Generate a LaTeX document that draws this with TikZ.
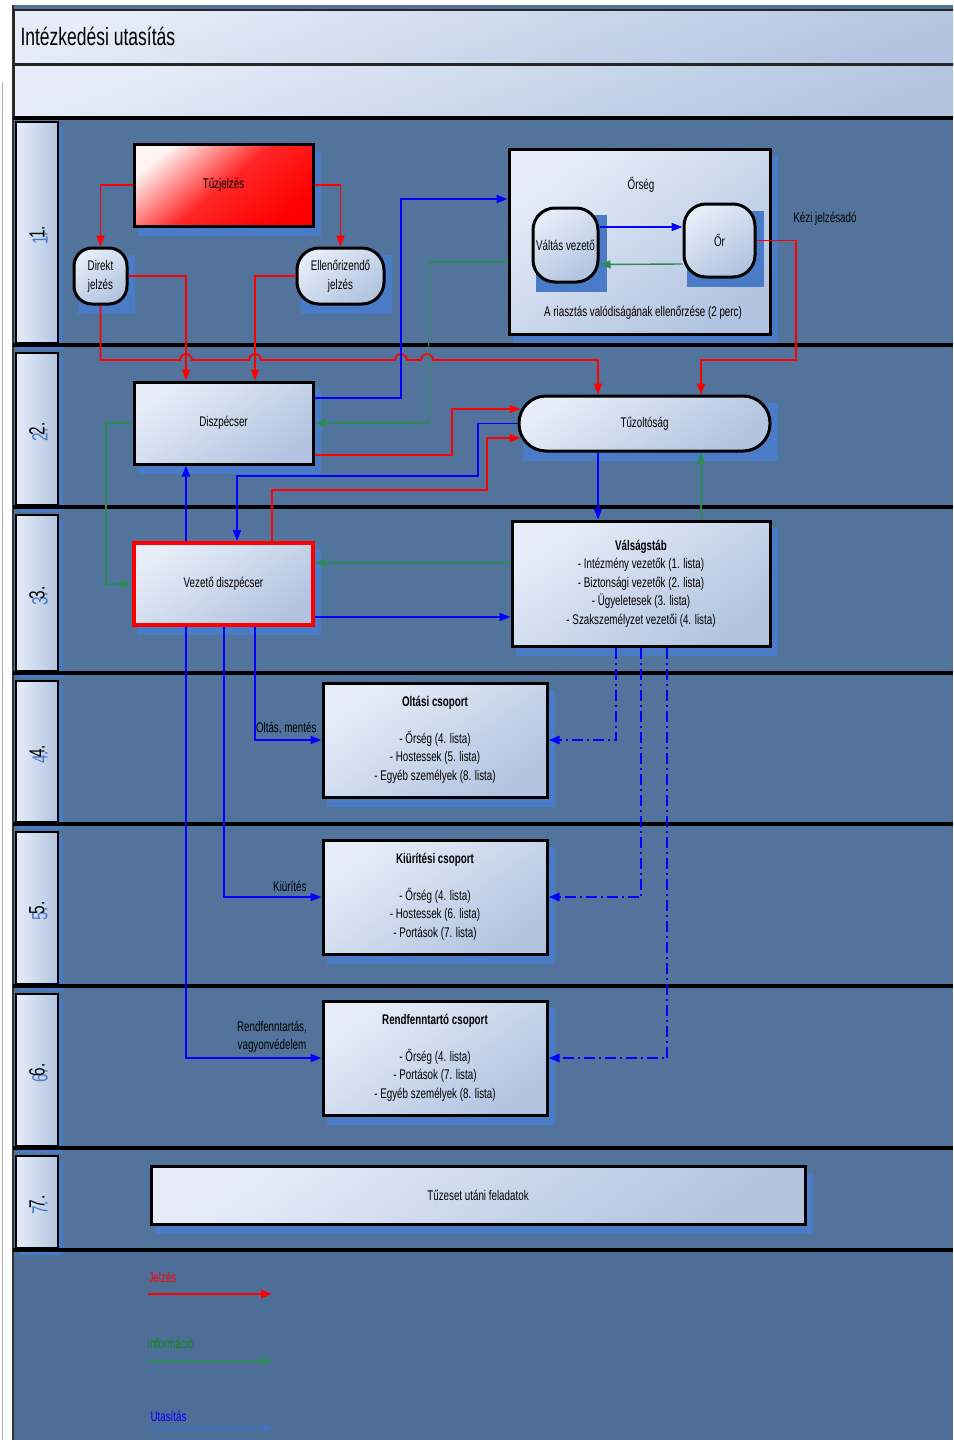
\documentclass[tikz,border=0pt]{standalone}
\usepackage{fontspec}
\setmainfont{Liberation Sans}[FakeStretch=0.7]
\usetikzlibrary{arrows.meta,calc}
\definecolor{bg}{HTML}{52739B}
\definecolor{bgl}{HTML}{4D6E96}
\definecolor{shd}{HTML}{4A7BC6}
\definecolor{lite}{HTML}{E6EDF8}
\definecolor{dark}{HTML}{B2C4E0}
\definecolor{grn}{HTML}{2E8B57}
\definecolor{blu}{HTML}{0000FF}
\definecolor{rd}{HTML}{FF0000}
\definecolor{lgblue}{HTML}{3F72C2}
\definecolor{lgreen}{HTML}{118811}
\pgfdeclarelayer{bgzero}
\pgfdeclarelayer{back}
\pgfdeclarelayer{cont}
\pgfdeclarelayer{cshadow}
\pgfsetlayers{bgzero,back,cont,cshadow,main}
\begin{document}
\begin{tikzpicture}[x=1pt,y=-1pt,
  every node/.style={font=\fontsize{14}{18.5}\selectfont},
  box/.style={draw=black, line width=3pt, top color=lite, bottom color=dark, shading angle=35, align=center, inner sep=2pt},
  lanebox/.style={draw=black, line width=2pt, left color=lite, right color=dark},
  rline/.style={draw=rd, line width=1.8pt},
  bline/.style={draw=blu, line width=1.8pt},
  gline/.style={draw=grn, line width=1.4pt},
  ddline/.style={draw=blu, line width=2.4pt, dash pattern=on 11pt off 4pt on 2pt off 4pt},
  arr/.style={-{Triangle[length=11pt,width=8pt]}},
  sep/.style={draw=black, line width=3.5pt},
  lanenum/.style={rotate=90, font=\fontsize{22}{22}\selectfont},
]
\clip (0,0) rectangle (953,1440);
\useasboundingbox (0,0) rectangle (953,1440);
\begin{pgfonlayer}{bgzero}
  \fill[white] (0,0) rectangle (953,1440);
  \fill[bg] (12,5) rectangle (953,1440);
  \fill[bgl] (12,1252) rectangle (953,1440);
  \draw[gray!60, line width=1pt] (2,82) -- (2,1440);
  \draw[black!80, line width=1.5pt] (13,5) -- (13,1440);
\end{pgfonlayer}

% headers
\node[draw=black!85, line width=2pt, top color=lite, bottom color=dark, shading angle=20, minimum width=960, minimum height=54, anchor=north west, inner sep=0pt] (hdr) at (13,9) {};
\node[anchor=west, font=\fontsize{25}{25}\selectfont] (title) at (17,36) {Intézkedési utasítás};
\node[draw=black!85, line width=2pt, top color=lite, bottom color=dark, shading angle=20, minimum width=960, minimum height=52, anchor=north west, inner sep=0pt] (hdr2) at (13,64) {};

% lane separators
\foreach \yy in {118,345,507,673,824,986,1148,1250}
  \draw[sep] (13,\yy) -- (953,\yy);

% lane label boxes
\foreach \i/\ya/\yb in {1/121/342,2/352/504,3/514/670,4/680/821,5/831/983,6/993/1145,7/1155/1247}{
  \begin{pgfonlayer}{back}
    \fill[shd] (19,\ya+6) rectangle (63,\yb+8);
  \end{pgfonlayer}
  \node[lanebox, minimum width=42, minimum height=\yb-\ya, inner sep=0pt, anchor=north west] (lane\i) at (15,\ya) {};
  \node[lanenum, text=shd] (lnb\i) at ($(lane\i.center)+(3,6)$) {\i.};
  \node[lanenum] (ln\i) at (lane\i.center) {\i.};
}

% ---- nodes ----
\node[box, minimum width=179, minimum height=82, top color=white!80!pink, bottom color=rd, middle color=rd!85!white, shading angle=40] (tj) at (223.5,185) {Tűzjelzés};
\node[box, rounded corners=18pt, minimum width=53, minimum height=56, font=\fontsize{14}{19}\selectfont] (dj) at (100.5,276) {Direkt\\jelzés};
\node[box, rounded corners=22pt, minimum width=87, minimum height=56, font=\fontsize{14}{19}\selectfont] (ej) at (340.5,276) {Ellenőrizendő\\jelzés};
\begin{pgfonlayer}{cont}
  \node[box, minimum width=261, minimum height=185] (orseg) at (639.5,241.5) {};
\end{pgfonlayer}
\node (orsegt) at (641,185) {Őrség};
\node (riaszt) at (643,313) {A riasztás valódiságának ellenőrzése (2 perc)};
\node[box, rounded corners=22pt, minimum width=65, minimum height=74] (vv) at (565.5,245) {Váltás vezető};
\node[box, rounded corners=22pt, minimum width=71, minimum height=73] (or) at (719.5,240.5) {Őr};
\node (kezi) at (825,219) {Kézi jelzésadó};
\node[box, minimum width=179, minimum height=82] (disp) at (223.5,423) {Diszpécser};
\node[box, rounded corners=27pt, minimum width=251, minimum height=55] (tuz) at (644.5,423.5) {Tűzoltóság};
\node[box, draw=rd, line width=4pt, minimum width=179, minimum height=82] (vez) at (223.5,584) {Vezető diszpécser};
\node[box, minimum width=258, minimum height=125] (vs) at (641,583.5) {\textbf{Válságstáb}\\- Intézmény vezetők (1. lista)\\- Biztonsági vezetők (2. lista)\\- Ügyeletesek (3. lista)\\- Szakszemélyzet vezetői (4. lista)};
\node[box, minimum width=224, minimum height=114] (olt) at (435,740) {\textbf{Oltási csoport}\\[18pt]- Őrség (4. lista)\\- Hostessek (5. lista)\\- Egyéb személyek (8. lista)};
\node[box, minimum width=224, minimum height=114] (kiur) at (435,897) {\textbf{Kiürítési csoport}\\[18pt]- Őrség (4. lista)\\- Hostessek (6. lista)\\- Portások (7. lista)};
\node[box, minimum width=224, minimum height=114] (rend) at (435,1058) {\textbf{Rendfenntartó csoport}\\[18pt]- Őrség (4. lista)\\- Portások (7. lista)\\- Egyéb személyek (8. lista)};
\node[box, minimum width=654, minimum height=58] (tue) at (478,1195) {Tűzeset utáni feladatok};

% shadows
\begin{pgfonlayer}{back}
  \foreach \n in {tj,dj,ej,orseg,disp,tuz,vez,vs,olt,kiur,rend,tue}
    \fill[shd] ($(\n.north west)+(5,8)$) rectangle ($(\n.south east)+(6,8)$);
\end{pgfonlayer}
\begin{pgfonlayer}{cshadow}
  \foreach \n in {vv,or}
    \fill[shd] ($(\n.north west)+(4,8)$) rectangle ($(\n.south east)+(7,8)$);
\end{pgfonlayer}

% ---- red (Jelzés) ----
\draw[rline,arr] (tj.west) -| (dj.north);
\draw[rline,arr] (tj.east) -| (ej.north);
\draw[rline,arr] (dj.east) -| ($(disp.north)+(-37.5,0)$);
\draw[rline,arr] (ej.west) -| ($(disp.north)+(31.5,0)$);
\draw[rline,arr] (dj.south) |- (180,360) arc[start angle=180,end angle=360,radius=6]
  -- (249,360) arc[start angle=180,end angle=360,radius=6]
  -- (395,360) arc[start angle=180,end angle=360,radius=6]
  -- (421,360) arc[start angle=180,end angle=360,radius=6]
  -- (598,360) -- ($(tuz.north)+(-46.5,0)$);
\draw[rline,arr] (or.east) -| (796,360) -| ($(tuz.north)+(56.5,0)$);
\draw[rline,arr] ($(disp.east)+(0,32)$) -| (452,409) -- ($(tuz.west)+(3,-14.5)$);
\draw[rline,arr] ($(vez.north)+(48.5,0)$) |- (487,490) |- ($(tuz.west)+(3,14.5)$);

% ---- blue (Utasítás) ----
\draw[bline,arr] ($(disp.east)+(0,-25)$) -| (401,199) -- ($(orseg.west)+(0,-42.5)$);
\draw[bline,arr] ($(vv.east)+(0,-18)$) -- ($(or.west)+(0,-13.5)$);
\draw[bline,arr] (tuz.west) -| (478,476) -| ($(vez.north)+(13.5,0)$);
\draw[bline,arr] ($(vez.north)+(-37.5,0)$) -- ($(disp.south)+(-37.5,0)$);
\draw[bline,arr] ($(vez.south)+(-37.5,0)$) |- (rend.west);
\draw[bline,arr] ($(vez.south)+(0.5,0)$) |- (kiur.west);
\draw[bline,arr] ($(vez.south)+(31.5,0)$) |- (olt.west);
\draw[bline,arr] ($(vez.east)+(0,33)$) -- ($(vs.west)+(0,33.5)$);
\draw[bline,arr] ($(tuz.south)+(-46.5,0)$) -- ($(vs.north)+(-43,0)$);
\draw[ddline,arr] ($(vs.south)+(-25,0)$) |- (olt.east);
\draw[ddline,arr] (vs.south) |- (kiur.east);
\draw[ddline,arr] ($(vs.south)+(26,0)$) |- (rend.east);

% ---- green (Információ) ----
\draw[gline,arr] ($(or.west)+(0,23.5)$) -- ($(vv.east)+(0,19.5)$);
\draw[gline,arr] ($(orseg.west)+(0,20.5)$) -| ($(disp.east)+(114,0)$) -- (disp.east);
\draw[gline,arr] (disp.west) -| ($(vez.west)+(-26,0)$) -- (vez.west);
\draw[gline,arr] ($(vs.west)+(0,-20.5)$) -- ($(vez.east)+(0,-21)$);
\draw[gline,arr] ($(vs.north)+(60,0)$) -- ($(tuz.south)+(56.5,0)$);

% edge labels
\node[anchor=east] (lbolt) at (320,728) {Oltás, mentés};
\node[anchor=east] (lbkiur) at (310,886) {Kiürítés};
\node[align=center] (lbrend) at (272,1037) {Rendfenntartás,\\vagyonvédelem};

% legend
\node[anchor=west, text=rd] (lgj) at (145,1277) {Jelzés};
\coordinate (lja) at (148,1294); \coordinate (ljb) at (272,1294);
\draw[draw=rd, line width=2.5pt, arr] (lja) -- (ljb);
\node[anchor=west, text=lgreen] (lgi) at (144,1343) {Információ};
\coordinate (lia) at (148,1361); \coordinate (lib) at (272,1361);
\draw[draw=grn, line width=2.5pt, arr] (lia) -- (lib);
\node[anchor=west, text=blu] (lgu) at (147,1416) {Utasítás};
\coordinate (lua) at (148,1428); \coordinate (lub) at (272,1428);
\draw[draw=lgblue, line width=2.5pt, -{Triangle[length=8pt,width=9pt,color=lgblue]}] (lua) -- (lub);
\end{tikzpicture}
\end{document}
